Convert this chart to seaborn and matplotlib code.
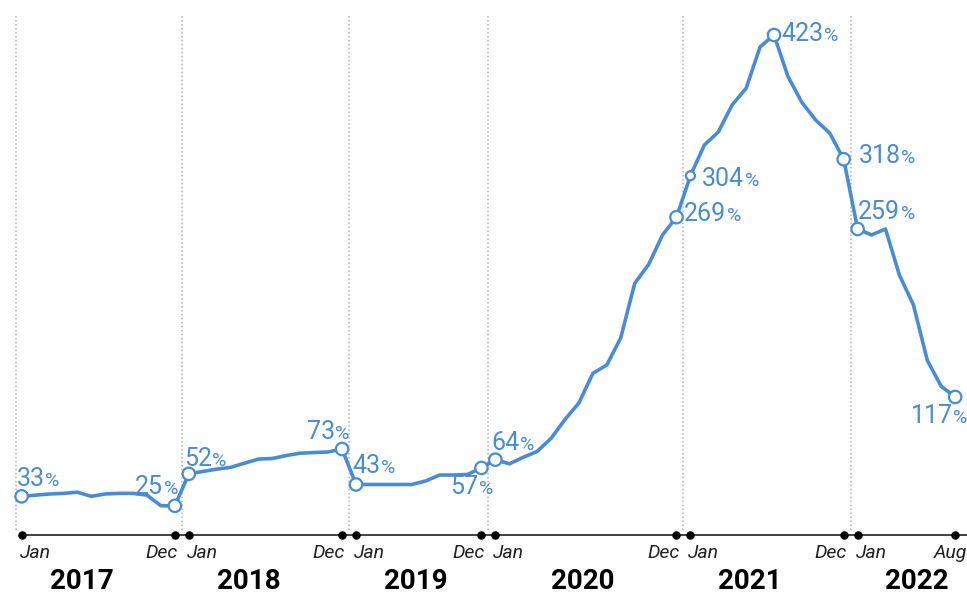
import matplotlib.pyplot as plt
import seaborn as sns
import pandas as pd
from matplotlib.offsetbox import TextArea, HPacker, AnnotationBbox

# values, one list per year (first and last point of each year are labelled)
years = ['2017', '2018', '2019', '2020', '2021', '2022']
v2017 = [33, 34, 35, 35.5, 36.5, 33, 35, 35.5, 35.5, 34, 25, 25]
v2018 = [52, 54, 56, 57.5, 61, 64.5, 65, 67.5, 69.5, 70, 70.5, 73]
v2019 = [43, 43, 43, 43, 43, 46, 51, 51, 51.5, 57]
v2020 = [64, 60.5, 66, 71, 82, 98, 112, 137, 144, 167, 213, 229, 254, 269]
v2021 = [304, 330, 341, 364, 378, 413, 423, 388, 366, 351, 340, 318]
v2022 = [259, 254, 259, 220, 195, 148, 126, 117]
start_labels = ['Jan', 'Jan', 'Jan', 'Jan', 'Jan', 'Jan']
end_labels = ['Dec', 'Dec', 'Dec', 'Dec', 'Dec', 'Aug']

# highlighted points: (year, position within the year)
highlights = [('2017', 0), ('2017', -1), ('2018', 0), ('2018', -1), ('2019', 0), ('2019', -1),
              ('2020', 0), ('2020', -1), ('2021', 0), ('2021', 6), ('2021', -1),
              ('2022', 0), ('2022', -1)]

BLUE = '#4a8cd4'
plt.rcParams['figure.dpi'] = 100
sns.set_theme(style='white')
plt.rcParams['font.family'] = ['Roboto', 'DejaVu Sans']

series = [v2017, v2018, v2019, v2020, v2021, v2022]
rows = []
pos = 0
for yr, vals in zip(years, series):
    for k, v in enumerate(vals):
        rows.append({'year': yr, 'k': k, 'pos': pos, 'value': v})
        pos += 1
df = pd.DataFrame(rows)

fig = plt.figure(figsize=(9.67, 5.97))
ax = fig.add_axes([0, 0, 1, 1])
ax.set_xlim(-1.55, 67.85)
ax.set_ylim(-52.1, 452.6)
ax.axis('off')

# year separators
firsts = df.groupby('year', sort=False)['pos'].min().values
lasts = df.groupby('year', sort=False)['pos'].max().values
seps = [firsts[0] - 0.4] + [(lasts[i] + firsts[i + 1]) / 2 for i in range(len(years) - 1)]
ax.vlines(seps, 4.5, 440, colors='#b0b0b0', linestyles=(0, (1, 1.6)), linewidth=1.1, zorder=1)

# baseline axis with year start/end dots
ax.hlines(0, firsts[0], 67.85, color='#333333', linewidth=1.3, zorder=2)
ends = list(firsts) + list(lasts)
ax.scatter(ends, [0] * len(ends), s=26, color='black', zorder=3, clip_on=False)

for i in range(len(years)):
    ax.annotate(start_labels[i], (firsts[i], 0), xytext=(-1.5, -6.0), textcoords='offset points',
                ha='left', va='top', fontsize=14, style='italic', color='#222222')
    dx = 8.5 if i == len(years) - 1 else 2
    ax.annotate(end_labels[i], (lasts[i], 0), xytext=(dx, -6.0), textcoords='offset points',
                ha='right', va='top', fontsize=14, style='italic', color='#222222')
    ax.text((82 + 167 * i) / 967, (597 - 568) / 597, years[i], transform=ax.transAxes,
            ha='center', va='top', fontsize=20, fontweight='bold', color='black')

# the line
sns.lineplot(data=df, x='pos', y='value', color=BLUE, linewidth=2.6, ax=ax, zorder=4)

# highlighted points
hl = pd.DataFrame([df[df['year'] == yr].iloc[k] for yr, k in highlights])
sizes = [42 if (yr == '2021' and k == 0) else 80 for yr, k in highlights]
ax.scatter(hl['pos'], hl['value'], s=sizes, facecolor='white', edgecolor=BLUE,
           linewidth=1.6, zorder=5)

# label placement: (box alignment, offset in points)
placements = [
    ((0, 0), (-3.6, 3.6)),    # 33
    ((1, 0), (2.4, 5.2)),     # 25
    ((0, 0), (-3.6, 2.4)),    # 52
    ((1, 0), (5.5, 3.4)),     # 73
    ((0, 0), (-2.9, 4.6)),    # 43
    ((1, 1), (8.6, -5.4)),    # 57
    ((0, 0), (-2.9, 3.4)),    # 64
    ((0, 0.5), (5.6, 2.6)),   # 269
    ((0, 0.5), (8.2, -2.0)),  # 304
    ((0, 0.5), (5.2, 0.6)),   # 423
    ((0, 0.5), (10.8, 2.0)),  # 318
    ((0, 0), (0.4, 3.4)),     # 259
    ((1, 1), (9.0, -5.0)),    # 117
]

for (_, r), (align, off) in zip(hl.iterrows(), placements):
    num = TextArea(f"{r['value']:.0f}", textprops=dict(color=BLUE, fontsize=18, family='Roboto'))
    pct = TextArea('%', textprops=dict(color=BLUE, fontsize=14, family='Roboto'))
    box = HPacker(children=[num, pct], align='baseline', pad=0, sep=0.5)
    ab = AnnotationBbox(box, (r['pos'], r['value']), xybox=off, boxcoords='offset points',
                        box_alignment=align, frameon=False, pad=0, zorder=6)
    ax.add_artist(ab)

fig.savefig('out.png', dpi=100)
